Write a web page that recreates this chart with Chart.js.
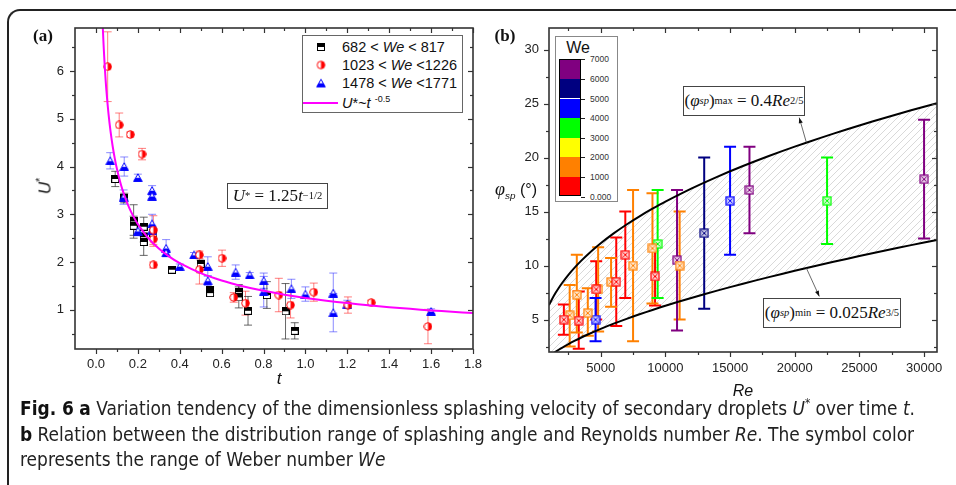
<!DOCTYPE html>
<html>
<head>
<meta charset="utf-8">
<script src="https://cdn.jsdelivr.net/npm/chart.js@4"></script>
<style>
  body { margin: 0; width: 956px; height: 485px; background: #fff; position: relative; overflow: hidden;
         font-family: "Liberation Sans", Arial, sans-serif; color: #111; }
  .frame { position: absolute; left: 7px; top: 9px; width: 1000px; height: 600px;
           border-left: 2px solid #222; border-top: 2px solid #222; border-top-left-radius: 13px; }
  #wrapA { position: absolute; left: 0; top: 0; width: 490px; height: 390px; }
  #wrapB { position: absolute; left: 476px; top: 0; width: 480px; height: 400px; }
  .c { position: absolute; white-space: nowrap; line-height: 1; transform: translate(-50%, -50%); }
  .box { position: absolute; background: #fff; border: 1px solid #555; box-sizing: border-box; }
  .serif { font-family: "Liberation Serif", "Times New Roman", serif; }
  sup, sub { font-size: 62%; line-height: 0; }
  .leg { position: absolute; white-space: nowrap; line-height: 1; font-size: 14.5px; transform: translateY(-50%); }
  .mk { position: absolute; transform: translate(-50%, -50%); }
  .eq { position: absolute; inset: 0; display: flex; align-items: center; justify-content: center;
        font-family: "Liberation Serif", "Times New Roman", serif; font-size: 17px; white-space: nowrap; }
  #caption { position: absolute; left: 20px; top: 396px; font-family: "Liberation Sans Narrow", "DejaVu Sans Condensed", "Open Sans", sans-serif;
             font-stretch: condensed; font-size: 20px; line-height: 25.5px; color: #222; transform-origin: 0 0; white-space: nowrap; }
  #caption b { color: #111; }
</style>
</head>
<body>
<div class="frame"></div>
<div id="wrapA"><canvas id="chartA" width="490" height="390"></canvas></div>
<div id="wrapB"><canvas id="chartB" width="480" height="400"></canvas></div>

<!-- panel letters and axis titles -->
<div class="c serif" style="left:43px;top:35px;font-size:17px;font-weight:bold">(a)</div>
<div class="c serif" style="left:505px;top:35px;font-size:17px;font-weight:bold">(b)</div>
<div class="c" style="left:45px;top:186px;font-size:17px;transform:translate(-50%,-50%) rotate(-90deg)"><i>U</i><sup>*</sup></div>
<div class="c" style="left:279px;top:378px;font-size:17px"><i>t</i></div>
<div class="c" style="left:743px;top:391px;font-size:16px"><i>Re</i></div>
<div class="c" style="left:516px;top:189px;font-size:16px"><i class="serif" style="font-size:18px">φ</i><sub><i>sp</i></sub> (°)</div>

<!-- panel (a) legend and fitted relation -->
<div id="legA" class="box" style="left:302px;top:35px;width:161px;height:78px;border-color:#666"></div>
<div class="box" style="left:227px;top:183px;width:101px;height:26px;border-color:#444">
  <div class="eq"><i>U</i><sup>*</sup>&nbsp;=&nbsp;1.25<i>t</i><sup>−1/2</sup></div>
</div>

<!-- panel (b) colour scale and bounding relations -->
<div id="scaleB" class="box" style="left:555px;top:36px;width:63px;height:166px;border-color:#888"></div>
<div class="box" style="left:683px;top:86px;width:122px;height:30px;border-color:#444">
  <div class="eq">(<i>φ</i><sub><i>sp</i></sub>)<sub>max</sub>&nbsp;=&nbsp;0.4<i>Re</i><sup>2/5</sup></div>
</div>
<div class="box" style="left:763px;top:298px;width:138px;height:30px;border-color:#444">
  <div class="eq">(<i>φ</i><sub><i>sp</i></sub>)<sub>min</sub>&nbsp;=&nbsp;0.025<i>Re</i><sup>3/5</sup></div>
</div>

<div id="caption">
  <div id="capLine1"><b>Fig. 6</b> <b>a</b> Variation tendency of the dimensionless splashing velocity of secondary droplets <i>U</i><sup>*</sup> over time <i>t</i>.</div>
  <div><b>b</b> Relation between the distribution range of splashing angle and Reynolds number <i>Re</i>. The symbol color</div>
  <div>represents the range of Weber number <i>We</i></div>
</div>

<script>
// ---------- panel (a): dimensionless splashing velocity U* against time t ----------
// 682 < We < 817
const tLow = [0.092, 0.135, 0.18, 0.18, 0.228, 0.228, 0.228, 0.274, 0.363, 0.50, 0.545, 0.545, 0.682, 0.682, 0.726, 0.816, 0.905, 0.949];
const uLow = [3.74, 3.34, 2.85, 2.76, 2.74, 2.52, 2.42, 2.60, 1.84, 1.96, 1.42, 1.35, 1.37, 1.26, 0.98, 1.31, 0.97, 0.56];
const eLow = [0.16, 0.1, 0.35, 0.2, 0.2, 0.1, 0.28, 0.1, 0.05, 0.08, 0.06, 0.05, 0.16, 0.22, 0.3, 0.28, 0.58, 0.17];
// 1023 < We < 1226
const tMid = [0.056, 0.111, 0.164, 0.22, 0.274, 0.274, 0.274, 0.494, 0.494, 0.602, 0.658, 0.714, 0.873, 0.929, 1.04, 1.203, 1.314, 1.585];
const uMid = [6.09, 4.87, 4.67, 4.26, 2.67, 2.48, 1.94, 2.15, 1.84, 2.08, 1.26, 1.14, 1.31, 1.10, 1.37, 1.10, 1.15, 0.65];
const eMid = [0.73, 0.25, 0.05, 0.12, 0.3, 0.15, 0.06, 0.08, 0.3, 0.17, 0.1, 0.25, 0.35, 0.27, 0.19, 0.17, 0.05, 0.36];
// 1478 < We < 1771
const tHigh = [0.068, 0.135, 0.132, 0.2, 0.2, 0.268, 0.268, 0.268, 0.268, 0.335, 0.335, 0.4, 0.468, 0.534, 0.534, 0.667, 0.734, 0.801, 0.801, 0.933, 1.0, 1.133, 1.133, 1.2, 1.6];
const uHigh = [4.12, 4.0, 3.36, 3.77, 2.65, 3.5, 3.38, 2.8, 2.67, 2.29, 2.19, 1.91, 2.15, 1.91, 1.61, 1.79, 1.73, 1.61, 1.38, 1.44, 1.33, 1.35, 0.94, 1.12, 0.97];
const eHigh = [0.17, 0.2, 0.15, 0.07, 0.1, 0.1, 0.05, 0.2, 0.1, 0.18, 0.05, 0.05, 0.05, 0.2, 0.1, 0.15, 0.05, 0.16, 0.32, 0.2, 0.15, 0.42, 0.4, 0.08, 0.05];
// fitted power law U* = 1.25 t^(-1/2)
const fitCoef = 1.25;
const fitPower = -0.5;
const fitT = [0.03, 0.035, 0.04, 0.045, 0.05, 0.06, 0.07, 0.08, 0.09, 0.1, 0.12, 0.14, 0.16, 0.18, 0.2, 0.25, 0.3, 0.35, 0.4,
              0.5, 0.6, 0.7, 0.8, 0.9, 1.0, 1.1, 1.2, 1.3, 1.4, 1.5, 1.6, 1.7, 1.8];
const legendLabelsA = ['682 &lt; <i>We</i> &lt; 817', '1023 &lt; <i>We</i> &lt;1226', '1478 &lt; <i>We</i> &lt;1771', '<i>U</i>*~<i>t</i> <sup>-0.5</sup>'];
const xMajorA = [0, 0.2, 0.4, 0.6, 0.8, 1.0, 1.2, 1.4, 1.6, 1.8];
const xMinorA = [0.1, 0.3, 0.5, 0.7, 0.9, 1.1, 1.3, 1.5, 1.7];
const yMajorA = [1, 2, 3, 4, 5, 6];
const yMinorA = [0.5, 1.5, 2.5, 3.5, 4.5, 5.5, 6.5];

// ---------- panel (b): splashing angle range against Reynolds number ----------
const weColors = ['#ff0000', '#ff8000', '#ffff00', '#00ff00', '#0000ff', '#000080', '#800080'];
const weLevels = ['0.000', '1000', '2000', '3000', '4000', '5000', '6000', '7000'];
const reVals  = [2150, 3300, 4650, 6200, 6900, 9200,  2600, 3150, 4000, 4800, 5800, 7500, 9000, 11100,  9400, 22500,  4600, 15000,  13000,  10900, 16500, 30000];
const phiVals = [5.0, 4.9, 7.8, 8.5, 11.0, 9.0,       5.4, 7.3, 5.6, 7.8, 8.5, 10.0, 11.6, 10.0,      12.0, 16.0,    5.0, 16.0,    13.0,   10.5, 17.0, 18.0];
const phiLow  = [3.6, 2.3, 5.0, 4.4, 7.0, 6.3,        2.5, 3.8, 3.5, 3.9, 6.2, 3.0, 6.5, 5.0,         7.0, 12.0,     3.0, 11.0,    6.0,    4.0, 13.0, 12.5];
const phiHigh = [6.4, 7.6, 10.4, 12.6, 15.0, 11.7,    8.2, 11.0, 7.9, 11.7, 10.7, 17.0, 16.7, 15.0,   17.0, 20.0,    7.0, 21.0,    20.0,   17.0, 21.0, 23.5];
const weBand  = [0, 0, 0, 0, 0, 0,                    1, 1, 1, 1, 1, 1, 1, 1,                         3, 3,          4, 4,         5,      6, 6, 6];
// bounds (phi_sp)max = 0.4 Re^(2/5), (phi_sp)min = 0.025 Re^(3/5)
const maxBound = [0.4, 2 / 5];
const minBound = [0.025, 3 / 5];
const boundRe = [1000, 1250, 1500, 1750, 2000, 2500, 3000, 3500, 4000, 5000, 6000, 7000, 8000, 9000, 10000, 12000, 14000,
                 16000, 18000, 20000, 22000, 24000, 26000, 28000, 30000, 31000];
const xMajorB = [5000, 10000, 15000, 20000, 25000, 30000];
const xMinorB = [2500, 7500, 12500, 17500, 22500, 27500];
const yMajorB = [5, 10, 15, 20, 25, 30];
const yMinorB = [2.5, 7.5, 12.5, 17.5, 22.5, 27.5];

Chart.defaults.font.family = '"Liberation Sans", Arial, sans-serif';
Chart.defaults.font.size = 13;
Chart.defaults.color = '#222';

// small canvases used as point styles
function markerCanvas(w, h, draw) {
  const c = document.createElement('canvas');
  c.width = w; c.height = h;
  draw(c.getContext('2d'), w, h);
  return c;
}
const mkSquare = markerCanvas(8, 8, (g, w, h) => {
  g.fillStyle = '#fff'; g.fillRect(0.5, 0.5, w - 1, h - 1);
  g.fillStyle = '#000'; g.fillRect(0.5, 0.5, w - 1, (h - 1) / 2);
  g.strokeStyle = '#000'; g.lineWidth = 1; g.strokeRect(0.5, 0.5, w - 1, h - 1);
});
const mkCircle = markerCanvas(9, 9, (g, w, h) => {
  g.beginPath(); g.arc(4.5, 4.5, 3.8, 0, Math.PI * 2);
  g.fillStyle = '#fff'; g.fill();
  g.beginPath(); g.arc(4.5, 4.5, 3.8, -Math.PI / 2, Math.PI / 2); g.closePath();
  g.fillStyle = '#ff0000'; g.fill();
  g.beginPath(); g.arc(4.5, 4.5, 3.8, 0, Math.PI * 2);
  g.strokeStyle = '#ff0000'; g.lineWidth = 1; g.stroke();
});
const mkTriangle = markerCanvas(10, 9, (g, w, h) => {
  g.beginPath(); g.moveTo(5, 0.8); g.lineTo(9.3, 8.4); g.lineTo(0.7, 8.4); g.closePath();
  g.fillStyle = '#fff'; g.fill();
  g.save(); g.clip(); g.fillStyle = '#0000ff'; g.fillRect(0, 4.8, w, h); g.restore();
  g.strokeStyle = '#0000ff'; g.lineWidth = 1; g.stroke();
});
const boxCross = weColors.map(col => markerCanvas(10, 10, (g, w, h) => {
  g.fillStyle = '#fff'; g.fillRect(1, 1, 8, 8);
  g.globalAlpha = 0.2; g.fillStyle = col; g.fillRect(1, 1, 8, 8); g.globalAlpha = 1;
  g.strokeStyle = col; g.lineWidth = 1.2; g.strokeRect(1, 1, 8, 8);
  g.lineWidth = 1; g.beginPath(); g.moveTo(2.5, 2.5); g.lineTo(7.5, 7.5); g.moveTo(7.5, 2.5); g.lineTo(2.5, 7.5); g.stroke();
}));

// diagonal hatching between the two bounds
const hatchTile = markerCanvas(7, 7, (g) => {
  g.strokeStyle = '#cfcfcf'; g.lineWidth = 0.8;
  g.beginPath(); g.moveTo(-1, 8); g.lineTo(8, -1); g.stroke();
});
const hatch = hatchTile.getContext('2d').createPattern(hatchTile, 'repeat');

// box frame with major/minor ticks: outward on bottom/left, inward on top/right
const frameTicks = {
  id: 'frameTicks',
  afterDraw(chart, args, o) {
    const { ctx, chartArea: a, scales: { x, y } } = chart;
    ctx.save();
    ctx.strokeStyle = '#333';
    ctx.lineWidth = 1.2;
    const seg = (x0, y0, x1, y1) => { ctx.beginPath(); ctx.moveTo(x0, y0); ctx.lineTo(x1, y1); ctx.stroke(); };
    [[o.xMajor, 5], [o.xMinor, 3]].forEach(([vals, len]) => vals.forEach(v => {
      const px = Math.round(x.getPixelForValue(v)) + 0.5;
      seg(px, a.bottom, px, a.bottom + len);
      seg(px, a.top, px, a.top + len);
    }));
    [[o.yMajor, 5], [o.yMinor, 3]].forEach(([vals, len]) => vals.forEach(v => {
      const py = Math.round(y.getPixelForValue(v)) + 0.5;
      seg(a.left - len, py, a.left, py);
      seg(a.right - len, py, a.right, py);
    }));
    ctx.lineWidth = 1.6;
    ctx.strokeRect(a.left, a.top, a.right - a.left, a.bottom - a.top);
    ctx.restore();
  }
};

// vertical error bars with caps, read from dataset.lo / dataset.hi
const errorBars = {
  id: 'errorBars',
  beforeDatasetsDraw(chart) {
    const { ctx, chartArea: a, scales: { x, y } } = chart;
    ctx.save();
    ctx.beginPath(); ctx.rect(a.left, a.top, a.right - a.left, a.bottom - a.top); ctx.clip();
    chart.data.datasets.forEach(ds => {
      if (!ds.lo) return;
      ctx.strokeStyle = ds.errColor;
      ctx.lineWidth = ds.errWidth;
      ds.data.forEach((p, i) => {
        const px = x.getPixelForValue(p.x);
        const top = y.getPixelForValue(ds.hi[i]);
        const bot = y.getPixelForValue(ds.lo[i]);
        ctx.beginPath();
        ctx.moveTo(px, top); ctx.lineTo(px, bot);
        ctx.moveTo(px - ds.cap, top); ctx.lineTo(px + ds.cap, top);
        ctx.moveTo(px - ds.cap, bot); ctx.lineTo(px + ds.cap, bot);
        ctx.stroke();
      });
    });
    ctx.restore();
  }
};

// thin leader arrows from the bound curves to their labels
const leaders = {
  id: 'leaders',
  afterDatasetsDraw(chart, args, o) {
    const { ctx, scales: { x, y } } = chart;
    ctx.save();
    ctx.strokeStyle = '#444'; ctx.fillStyle = '#111'; ctx.lineWidth = 0.8;
    o.arrows.forEach(([x0, y0, x1, y1]) => {
      const ax = x.getPixelForValue(x0), ay = y.getPixelForValue(y0);
      const bx = x.getPixelForValue(x1), by = y.getPixelForValue(y1);
      ctx.beginPath(); ctx.moveTo(ax, ay); ctx.lineTo(bx, by); ctx.stroke();
      const ang = Math.atan2(by - ay, bx - ax);
      ctx.beginPath();
      ctx.moveTo(bx, by);
      ctx.lineTo(bx - 6 * Math.cos(ang - 0.35), by - 6 * Math.sin(ang - 0.35));
      ctx.lineTo(bx - 6 * Math.cos(ang + 0.35), by - 6 * Math.sin(ang + 0.35));
      ctx.closePath(); ctx.fill();
    });
    ctx.restore();
  }
};

function fixedAxis(extra) {
  return Object.assign({
    type: 'linear',
    grid: { display: false, drawTicks: false },
    border: { display: false },
  }, extra);
}

function scatterSet(xs, ys, errs, style, errColor) {
  return {
    data: xs.map((v, i) => ({ x: v, y: ys[i] })),
    lo: ys.map((v, i) => v - errs[i]),
    hi: ys.map((v, i) => v + errs[i]),
    errColor, errWidth: 1, cap: 4,
    pointStyle: style, pointRadius: 4
  };
}

// ---------- chart (a) ----------
new Chart(document.getElementById('chartA'), {
  type: 'scatter',
  data: {
    datasets: [
      {
        type: 'line',
        data: fitT.map(t => ({ x: t, y: fitCoef * Math.pow(t, fitPower) })),
        borderColor: '#ff00ff', borderWidth: 2, pointRadius: 0, fill: false, tension: 0.3
      },
      scatterSet(tMid, uMid, eMid, mkCircle, 'rgba(255,40,40,0.6)'),
      scatterSet(tHigh, uHigh, eHigh, mkTriangle, 'rgba(60,60,255,0.6)'),
      scatterSet(tLow, uLow, eLow, mkSquare, 'rgba(40,40,40,0.7)')
    ]
  },
  options: {
    responsive: false,
    animation: false,
    layout: { padding: { top: 28, right: 17, left: 0, bottom: 0 } },
    plugins: {
      legend: { display: false },
      tooltip: { enabled: false },
      frameTicks: { xMajor: xMajorA, xMinor: xMinorA, yMajor: yMajorA, yMinor: yMinorA }
    },
    scales: {
      x: fixedAxis({
        min: -0.1, max: 1.8,
        afterBuildTicks: s => { s.ticks = xMajorA.map(v => ({ value: v })); },
        afterFit: s => { s.height = 41; s.paddingLeft = 0; s.paddingRight = 0; },
        ticks: { padding: 8, maxRotation: 0, autoSkip: false, callback: v => v.toFixed(1) }
      }),
      y: fixedAxis({
        min: 0.18, max: 6.9,
        afterBuildTicks: s => { s.ticks = yMajorA.map(v => ({ value: v })); },
        afterFit: s => { s.width = 75; s.paddingTop = 0; s.paddingBottom = 0; },
        ticks: { padding: 11, autoSkip: false, callback: v => String(v) }
      })
    }
  },
  plugins: [frameTicks, errorBars]
});

// ---------- chart (b) ----------
const bandSets = weColors.map((col, band) => {
  const idx = weBand.map((b, i) => b === band ? i : -1).filter(i => i >= 0);
  return {
    data: idx.map(i => ({ x: reVals[i], y: phiVals[i] })),
    lo: idx.map(i => phiLow[i]),
    hi: idx.map(i => phiHigh[i]),
    errColor: col, errWidth: 2, cap: 6,
    pointStyle: boxCross[band], pointRadius: 5
  };
}).filter(ds => ds.data.length);

new Chart(document.getElementById('chartB'), {
  type: 'scatter',
  data: {
    datasets: [
      ...bandSets,
      {
        type: 'line',
        data: boundRe.map(r => ({ x: r, y: maxBound[0] * Math.pow(r, maxBound[1]) })),
        borderColor: '#000', borderWidth: 2, pointRadius: 0, fill: false, tension: 0.3
      },
      {
        type: 'line',
        data: boundRe.map(r => ({ x: r, y: minBound[0] * Math.pow(r, minBound[1]) })),
        borderColor: '#000', borderWidth: 2, pointRadius: 0, tension: 0.3,
        fill: '-1', backgroundColor: hatch
      }
    ]
  },
  options: {
    responsive: false,
    animation: false,
    layout: { padding: { top: 28, right: 19, left: 0, bottom: 0 } },
    plugins: {
      legend: { display: false },
      tooltip: { enabled: false },
      filler: { drawTime: 'beforeDatasetsDraw' },
      frameTicks: { xMajor: xMajorB, xMinor: xMinorB, yMajor: yMajorB, yMinor: yMinorB },
      leaders: { arrows: [[20900, 21.4, 20350, 23.7], [20900, 9.77, 21900, 7.15]] }
    },
    scales: {
      x: fixedAxis({
        min: 1000, max: 31000,
        afterBuildTicks: s => { s.ticks = xMajorB.map(v => ({ value: v })); },
        afterFit: s => { s.height = 48; s.paddingLeft = 0; s.paddingRight = 0; },
        ticks: { padding: 9, maxRotation: 0, autoSkip: false, callback: v => String(v) }
      }),
      y: fixedAxis({
        min: 2, max: 32,
        afterBuildTicks: s => { s.ticks = yMajorB.map(v => ({ value: v })); },
        afterFit: s => { s.width = 73; s.paddingTop = 0; s.paddingBottom = 0; },
        ticks: { padding: 10, autoSkip: false, callback: v => String(v) }
      })
    }
  },
  plugins: [errorBars, frameTicks, leaders]
});

// ---------- legend of (a) ----------
const legA = document.getElementById('legA');
const legMarks = [mkSquare, mkCircle, mkTriangle, null];
const legRowY = [10.7, 29, 47.3, 66.7];
legendLabelsA.forEach((html, i) => {
  if (legMarks[i]) {
    const m = document.createElement('canvas');
    m.width = legMarks[i].width; m.height = legMarks[i].height;
    m.getContext('2d').drawImage(legMarks[i], 0, 0);
    m.className = 'mk'; m.style.left = '18px'; m.style.top = legRowY[i] + 'px';
    legA.appendChild(m);
  } else {
    const ln = document.createElement('div');
    ln.style.cssText = `position:absolute;left:0;top:${legRowY[i] - 1}px;width:35px;height:2px;background:#ff00ff`;
    legA.appendChild(ln);
  }
  const t = document.createElement('div');
  t.className = 'leg'; t.style.left = '39px'; t.style.top = legRowY[i] + 'px';
  t.innerHTML = html;
  legA.appendChild(t);
});

// ---------- colour scale of (b) ----------
const scaleB = document.getElementById('scaleB');
const barTop = 22.3, segH = 19.6;
const title = document.createElement('div');
title.className = 'c'; title.style.cssText += 'left:22px;top:11px;font-size:16px';
title.textContent = 'We';
scaleB.appendChild(title);
weColors.slice().reverse().forEach((col, i) => {
  const s = document.createElement('div');
  s.style.cssText = `position:absolute;left:3px;top:${barTop + i * segH}px;width:22px;height:${segH}px;background:${col}`;
  scaleB.appendChild(s);
});
const outline = document.createElement('div');
outline.style.cssText = `position:absolute;left:3px;top:${barTop}px;width:22px;height:${segH * 7}px;border:1px solid #000;box-sizing:border-box`;
scaleB.appendChild(outline);
weLevels.slice().reverse().forEach((lab, i) => {
  const y = barTop + i * segH;
  const tk = document.createElement('div');
  tk.style.cssText = `position:absolute;left:25px;top:${y}px;width:4px;height:1px;background:#222`;
  scaleB.appendChild(tk);
  const t = document.createElement('div');
  t.style.cssText = `position:absolute;left:34px;top:${y}px;transform:translateY(-50%);font-size:8.5px;line-height:1;color:#333`;
  t.textContent = lab;
  scaleB.appendChild(t);
});

// caption lines share one horizontal scale so the first line spans the frame width
const cap = document.getElementById('caption');
const l1 = document.getElementById('capLine1');
const range = document.createRange(); range.selectNodeContents(l1);
const natural = range.getBoundingClientRect().width;
cap.style.transform = `scaleX(${895 / natural})`;
</script>
</body>
</html>
